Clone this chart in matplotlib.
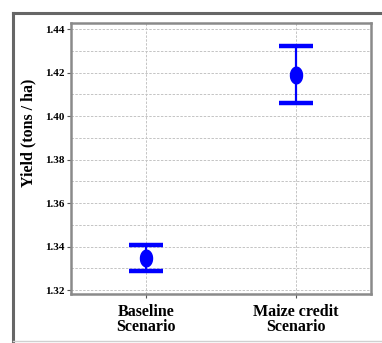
import numpy as np
import matplotlib
matplotlib.use('Agg')
import matplotlib.pyplot as plt
from matplotlib.path import Path
from matplotlib.lines import Line2D
from matplotlib.ticker import MultipleLocator

# scenario yields (tons / ha) with interval bounds
scenarios = ['Baseline\nScenario', 'Maize credit\nScenario']
mean_yield = [1.3347, 1.4189]
lower = [1.3287, 1.4060]
upper = [1.3407, 1.4322]

plt.rcParams['font.family'] = ['Liberation Serif', 'DejaVu Serif']

W, H = 382, 343
fig = plt.figure(figsize=(W / 100, H / 100), dpi=100)
ax = fig.add_axes([71 / W, 1 - 294 / H, 300 / W, 271 / H])

x = np.arange(len(scenarios))
yerr = [np.array(mean_yield) - np.array(lower), np.array(upper) - np.array(mean_yield)]

# tall ellipse marker
t = np.linspace(0, 2 * np.pi, 60)
ellipse = Path(np.column_stack([0.72 * np.cos(t), np.sin(t)]), closed=True)

ax.errorbar(x, mean_yield, yerr=yerr, fmt='none', ecolor='#0000ff',
            elinewidth=1.6, capsize=12, capthick=3.2, zorder=3)
ax.plot(x, mean_yield, linestyle='none', marker=ellipse, markersize=12,
        color='#0000ff', zorder=4)

ax.set_xlim(-0.5, 1.5)
ax.set_ylim(1.3182, 1.4428)
ax.set_xticks(x)
ax.set_xticklabels(scenarios, fontsize=11.5, fontweight='bold', linespacing=0.9)
ax.yaxis.set_minor_locator(MultipleLocator(0.01))
yt = np.arange(1.32, 1.4401, 0.02)
ax.set_yticks(yt)
ax.set_yticklabels([f'{v:.2f}' for v in yt], fontsize=8, fontweight='bold')
ax.tick_params(axis='y', which='minor', length=0)
ax.tick_params(axis='both', which='major', length=3, width=0.8, color='#555555', pad=1.5)
ax.tick_params(axis='x', pad=4)

ax.grid(True, which='both', linestyle=(0, (2.5, 1.5)), color='#c4c4c4', linewidth=0.7)
ax.set_axisbelow(True)

for s in ax.spines.values():
    s.set_color('#8a8a8a')
    s.set_linewidth(1.8)

ax.set_ylabel('Yield (tons / ha)', fontsize=11.5, fontweight='bold')
ax.yaxis.set_label_coords(-0.117, 0.594)

# outer panel border
fig.add_artist(Line2D([13 / W, 13 / W], [1 - 13 / H, 0], transform=fig.transFigure,
                      color='#666666', linewidth=2.2))
fig.add_artist(Line2D([13 / W, 1], [1 - 13 / H, 1 - 13 / H], transform=fig.transFigure,
                      color='#666666', linewidth=2.2))
fig.add_artist(Line2D([13 / W, 1], [1 - 341 / H, 1 - 341 / H], transform=fig.transFigure,
                      color='#d0d0d0', linewidth=1))

fig.savefig('out.png', dpi=100)
